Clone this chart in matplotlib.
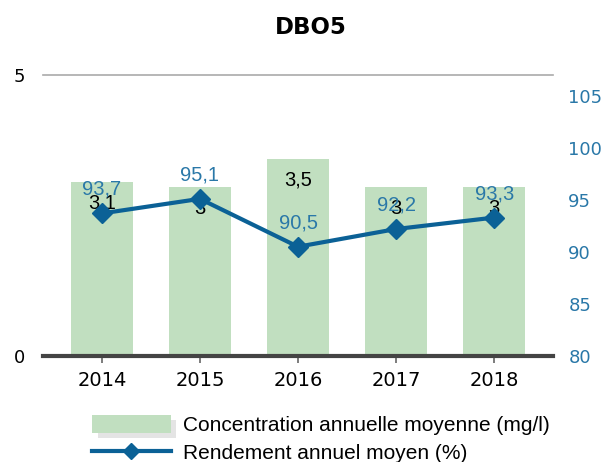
import matplotlib
matplotlib.use("Agg")
import matplotlib.pyplot as plt
import matplotlib.patheffects as pe
from matplotlib.lines import Line2D
from matplotlib.patches import Patch

plt.rcParams["font.family"] = ["DejaVu Sans"]

years = ["2014", "2015", "2016", "2017", "2018"]
concentration = [3.1, 3, 3.5, 3, 3]
conc_labels = ["3,1", "3", "3,5", "3", "3"]
rendement = [93.7, 95.1, 90.5, 92.2, 93.3]
rend_labels = ["93,7", "95,1", "90,5", "92,2", "93,3"]

BAR = "#c1dfc0"
LINE = "#0b6196"
TICKBLUE = "#2a78a8"

fig = plt.figure(figsize=(6.09, 4.62), dpi=100)
ax = fig.add_axes([43/609, 1-356/462, (553-43)/609, (356-75)/462])
x = list(range(len(years)))
ax.bar(x, concentration, width=0.63, color=BAR, zorder=2)
ax.set_xlim(-0.6, 4.6)
ax.set_ylim(0, 5)
ax.set_yticks([0, 5])
ax.set_yticklabels(["0", "5"], fontsize=13)
ax.tick_params(axis="y", length=0, pad=13)
ax.set_xticks(x)
ax.set_xticklabels(years, fontsize=14)
ax.tick_params(axis="x", length=5, width=1.2, color="#666666", pad=6)
for s in ["left", "right"]:
    ax.spines[s].set_visible(False)
ax.spines["top"].set_color("#aaaaaa")
ax.spines["top"].set_linewidth(1.2)
ax.spines["bottom"].set_color("#444444")
ax.spines["bottom"].set_linewidth(3)
ax.spines["bottom"].set_zorder(5)

for xi, v, lab in zip(x, concentration, conc_labels):
    ax.annotate(lab, (xi, v), xytext=(0, -21), textcoords="offset pixels",
                ha="center", va="center", fontsize=14.5, family="Liberation Sans",
                color="black", zorder=6)

ax2 = ax.twinx()
ax2.set_ylim(80, 107)
ax2.set_yticks([80, 85, 90, 95, 100, 105])
ax2.tick_params(axis="y", length=0, pad=11, labelcolor=TICKBLUE, labelsize=13)
for s in ax2.spines.values():
    s.set_visible(False)
ax2.plot(x, rendement, color=LINE, lw=3, marker="D", markersize=10, zorder=4)
for xi, v, lab in zip(x, rendement, rend_labels):
    ax2.annotate(lab, (xi, v), xytext=(0, 24), textcoords="offset pixels",
                 ha="center", va="center", fontsize=14.5, family="Liberation Sans",
                 color=TICKBLUE, zorder=6)

fig.text(311/609, 1-28/462, "DBO5", ha="center", va="center", fontsize=16.5,
         fontweight="bold")

bar_handle = Patch(facecolor=BAR, edgecolor="none",
                   path_effects=[pe.SimplePatchShadow(offset=(4, -3.5), shadow_rgbFace="#e4e4e4", alpha=1),
                                 pe.Normal()])
handles = [bar_handle,
           Line2D([0], [0], color=LINE, lw=3, marker="D", markersize=8)]
fig.legend(handles, ["Concentration annuelle moyenne (mg/l)", "Rendement annuel moyen (%)"],
           loc="upper left", bbox_to_anchor=(82/609, 1-405/462), frameon=False,
           prop={"family": "Liberation Sans", "size": 15}, handlelength=3.75,
           handleheight=0.9, labelspacing=0.36, borderpad=0, handletextpad=0.6)

fig.savefig("out.png", dpi=100)
